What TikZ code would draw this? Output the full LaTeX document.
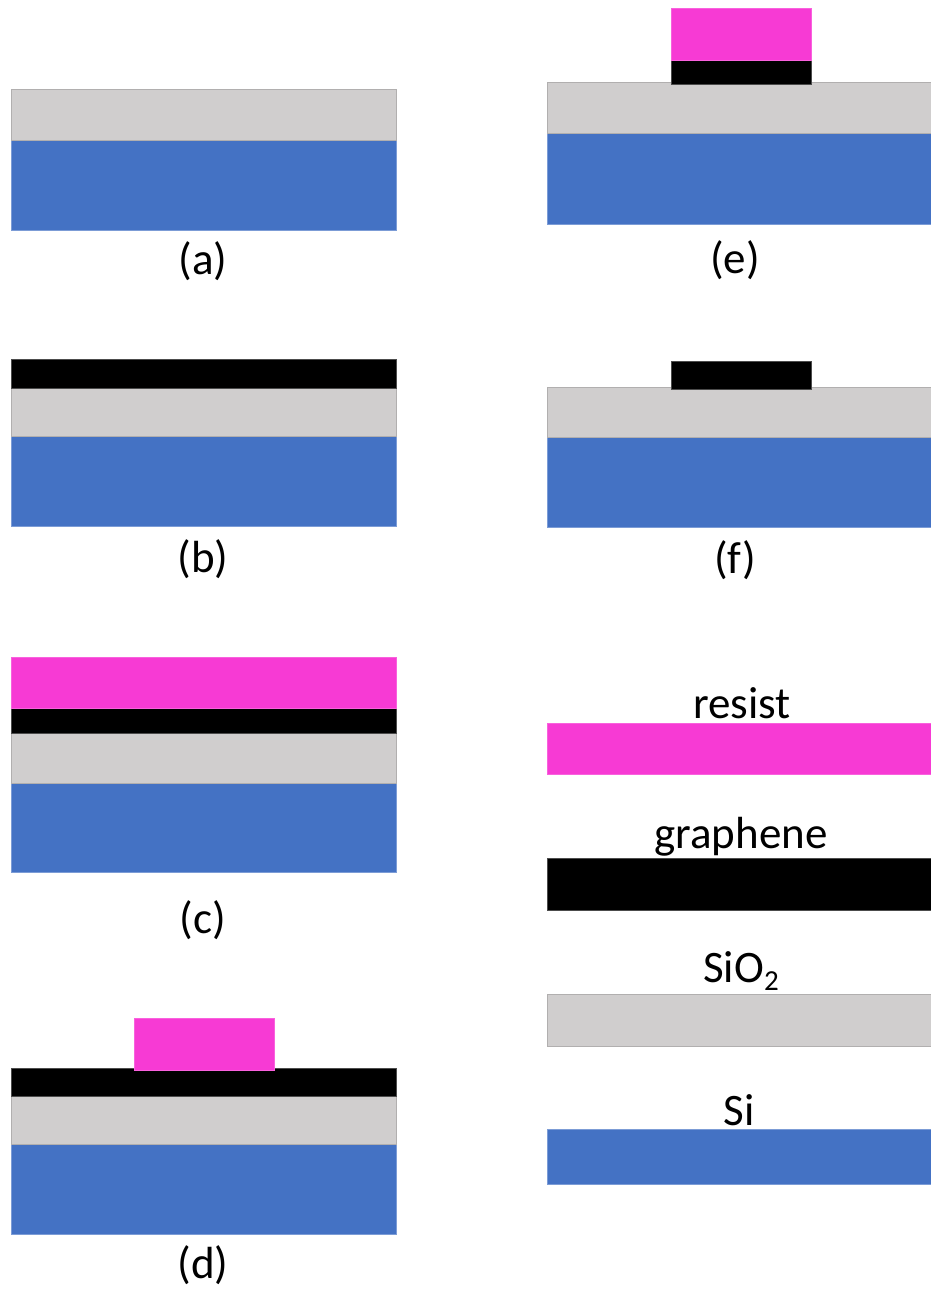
\documentclass[tikz,border=0pt]{standalone}
\usepackage{fontspec}
\setmainfont{Carlito}
\definecolor{sio}{HTML}{D0CECE}
\definecolor{si}{HTML}{4472C4}
\definecolor{res}{HTML}{F73AD4}
\definecolor{gra}{HTML}{000000}
\tikzset{
  layer/.style={line width=0.6pt},
  sioL/.style={layer, fill=sio, draw=sio!85!black},
  siL/.style={layer, fill=si, draw=si!70!white},
  resL/.style={layer, fill=res, draw=res!80!white},
  graL/.style={layer, fill=gra, draw=gra!70!white},
  lbl/.style={anchor=base, inner sep=0pt, font=\fontsize{45}{52}\selectfont}
}
\begin{document}
\begin{tikzpicture}[x=1pt,y=-1pt]
\useasboundingbox (0,0) rectangle (930,1290);
% (a)
\draw[siL] (11,140) rectangle (396,230);
\draw[sioL] (11,89) rectangle (396,140);
\node[lbl] (la) at (203,274) {(a)};
% (b)
\draw[siL] (11,436) rectangle (396,526);
\draw[sioL] (11,388) rectangle (396,436);
\draw[graL] (11,359) rectangle (396,388);
\node[lbl] (lb) at (203,572) {(b)};
% (c)
\draw[siL] (11,783) rectangle (396,872);
\draw[sioL] (11,733) rectangle (396,783);
\draw[graL] (11,708) rectangle (396,733);
\draw[resL] (11,657) rectangle (396,708);
\node[lbl] (lc) at (203,933) {(c)};
% (d)
\draw[siL] (11,1144) rectangle (396,1234);
\draw[sioL] (11,1096) rectangle (396,1144);
\draw[graL] (11,1068) rectangle (396,1096);
\draw[resL] (134,1018) rectangle (274,1070);
\node[lbl] (ld) at (203,1278) {(d)};
% (e)
\draw[siL] (547,133) rectangle (932,224);
\draw[sioL] (547,82) rectangle (932,133);
\draw[graL] (671,60) rectangle (811,84);
\draw[resL] (671,8) rectangle (811,60);
\node[lbl] (le) at (735,273) {(e)};
% (f)
\draw[siL] (547,437) rectangle (932,527);
\draw[sioL] (547,387) rectangle (932,437);
\draw[graL] (671,361) rectangle (811,389);
\node[lbl] (lf) at (735,573) {(f)};
% legend
\draw[resL] (547,723) rectangle (932,774);
\node[lbl] (tres) at (742,718) {resist};
\draw[graL] (547,858) rectangle (932,910);
\node[lbl] (tgra) at (741,848) {graphene};
\draw[sioL] (547,994) rectangle (932,1046);
\node[lbl] (tsio) at (741,982) {SiO\raisebox{-8pt}{\fontsize{29}{30}\selectfont 2}};
\draw[siL] (547,1129) rectangle (932,1184);
\node[lbl] (tsi) at (739,1125) {Si};
\end{tikzpicture}
\end{document}
